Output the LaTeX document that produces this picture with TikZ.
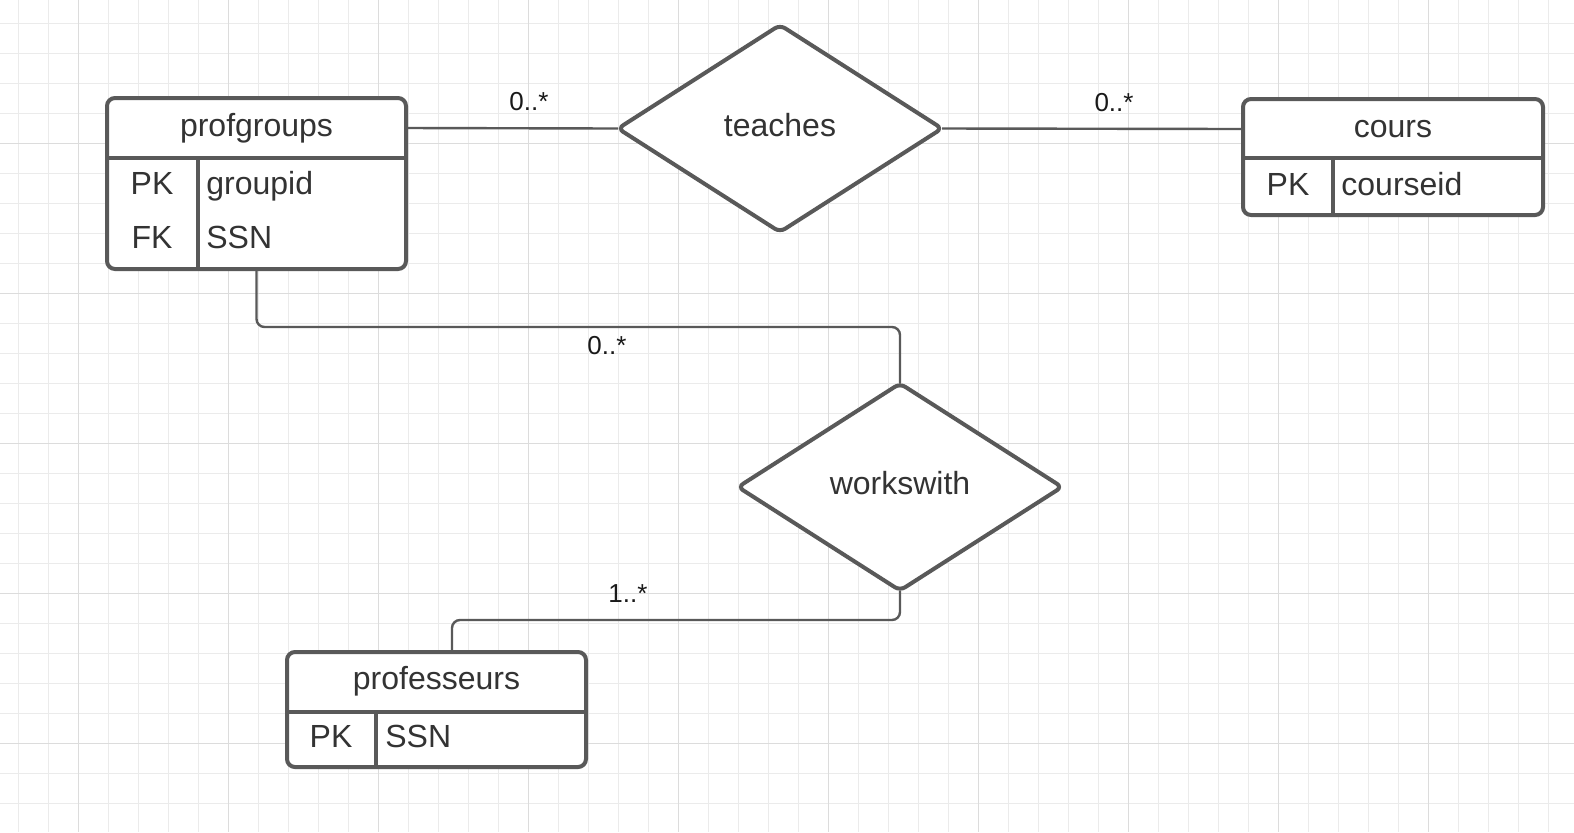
\documentclass[tikz,border=0pt]{standalone}
\usepackage{fontspec}
\setmainfont{Liberation Sans}
\usetikzlibrary{shapes.geometric}

\definecolor{edgegray}{HTML}{595959}
\definecolor{textgray}{HTML}{333333}
\definecolor{gridminor}{HTML}{EBEBEB}
\definecolor{gridmajor}{HTML}{DCDCDC}

\tikzset{
  entity/.style={draw=edgegray, line width=2pt, rounded corners=4pt, fill=white, inner sep=0pt, outer sep=0pt},
  header/.style={minimum width=149.5pt, minimum height=30pt, inner sep=0pt, outer sep=0pt, text height=12pt, text depth=3.5pt, font=\fontsize{16}{19}\selectfont, text=textgray},
  relation/.style={diamond, draw=edgegray, line width=2pt, rounded corners=3pt, fill=white, outer sep=0pt,
    minimum width=162pt, minimum height=103.5pt, inner sep=0pt, text depth=4pt, font=\fontsize{16}{19}\selectfont, text=textgray},
  keytag/.style={font=\fontsize{16}{19}\selectfont, text=textgray, text height=12pt, text depth=3.5pt},
  field/.style={font=\fontsize{16}{19}\selectfont, text=textgray, anchor=west, inner sep=0pt, text height=12pt, text depth=3.5pt},
  divider/.style={draw=edgegray, line width=2pt},
  link/.style={draw=edgegray, line width=1.2pt, rounded corners=4pt},
  mult/.style={font=\fontsize{13}{15}\selectfont, text=black!90}
}

\begin{document}
\begin{tikzpicture}[x=0.5pt, y=-0.5pt]
  \useasboundingbox (0,0) rectangle (1574,832);
  \fill[white] (0,0) rectangle (1574,832);
  % grid
  \foreach \x in {18,48,...,1568} \draw[gridminor, line width=0.5pt] (\x,0) -- (\x,832);
  \foreach \y in {23,53,...,823} \draw[gridminor, line width=0.5pt] (0,\y) -- (1574,\y);
  \foreach \x in {78,228,...,1428} \draw[gridmajor, line width=0.5pt] (\x,0) -- (\x,832);
  \foreach \y in {143,293,...,743} \draw[gridmajor, line width=0.5pt] (0,\y) -- (1574,\y);

  % profgroups
  \node[entity, minimum width=149.5pt, minimum height=85.5pt] (pg) at (256.5,183.5) {};
  \draw[divider] (107,158) -- (406,158);
  \draw[divider] (198,158) -- (198,269);
  \node[header] (pghead) at (256.5,128) {profgroups};
  \node[keytag] (pgpk) at (152,186) {PK};
  \node[keytag] (pgfk) at (152,240) {FK};
  \node[field] (pgid) at (206,186) {groupid};
  \node[field] (pgssn) at (206,240) {SSN};

  % cours
  \node[entity, minimum width=150pt, minimum height=58pt] (co) at (1393,157) {};
  \draw[divider] (1243,158) -- (1543,158);
  \draw[divider] (1333,158) -- (1333,215);
  \node[header] (cohead) at (1393,129) {cours};
  \node[keytag] (copk) at (1288,187) {PK};
  \node[field] (coid) at (1341,187) {courseid};

  % professeurs
  \node[entity, minimum width=149.5pt, minimum height=57.5pt] (pr) at (436.5,709.5) {};
  \draw[divider] (287,712) -- (586,712);
  \draw[divider] (376,712) -- (376,767);
  \node[header] (prhead) at (436.5,681) {professeurs};
  \node[keytag] (prpk) at (331,739) {PK};
  \node[field] (prssn) at (385,739) {SSN};

  % relations
  \node[relation] (teaches) at (780,128.5) {teaches};
  \node[relation] (works) at (900,487) {workswith};

  % connectors
  \coordinate (pgbend) at (256.5,327);
  \coordinate (wwbend) at (900,620);
  \coordinate (prtop) at (452,652);
  \draw[link] (pghead.east) -- (teaches.west);
  \draw[link] (teaches.east) -- (cohead.west);
  \draw[link] (pg.south) -- (pgbend) -| (works.north);
  \draw[link] (works.south) -- (wwbend) -| (prtop);

  % multiplicities
  \node[mult] (m1) at (529,102) {0..*};
  \node[mult] (m2) at (1114,103) {0..*};
  \node[mult] (m3) at (607,346) {0..*};
  \node[mult] (m4) at (628,594) {1..*};
\end{tikzpicture}
\end{document}
